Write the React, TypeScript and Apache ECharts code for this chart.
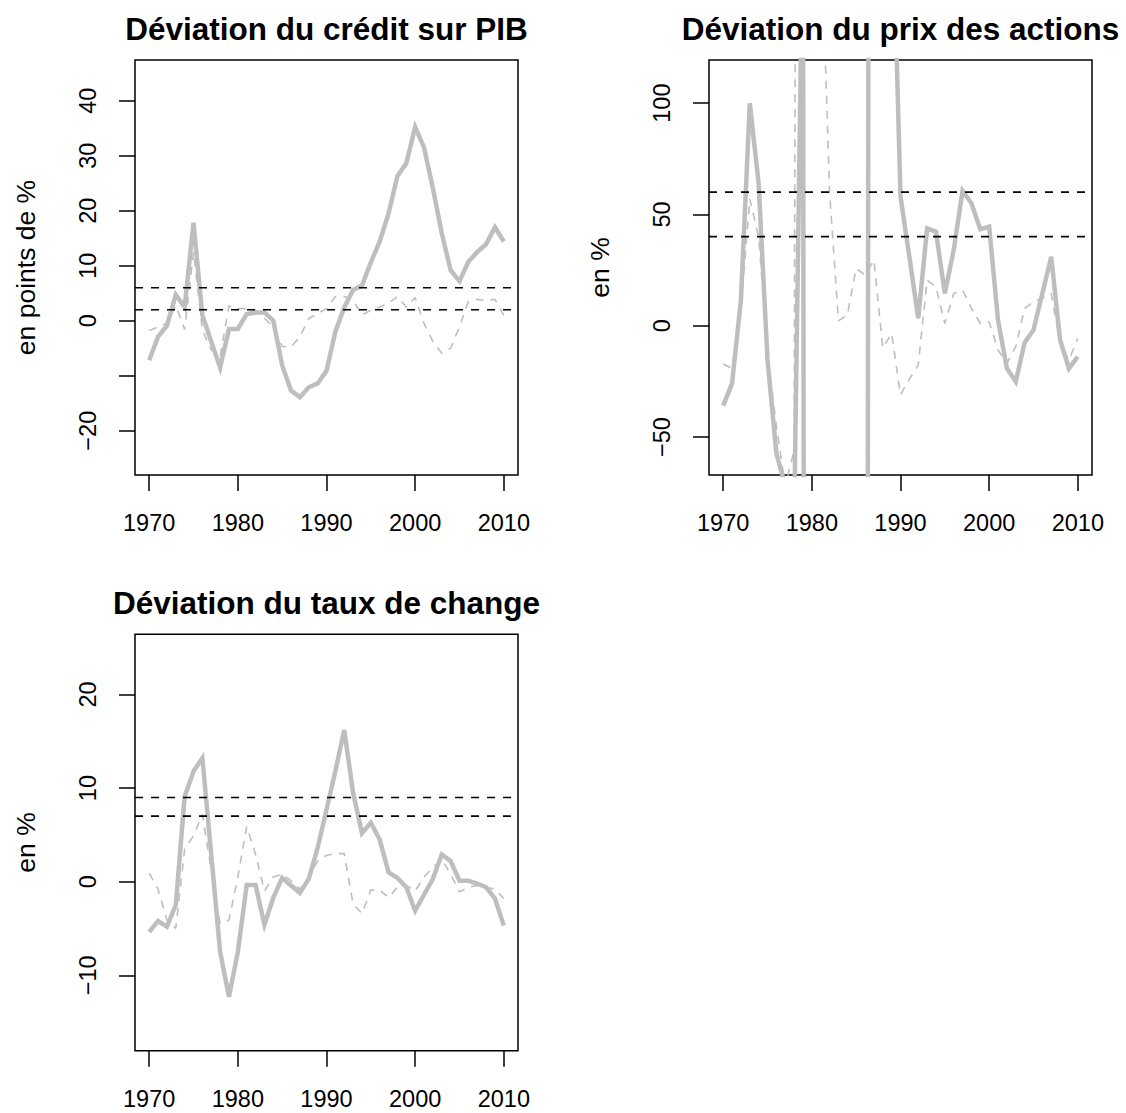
import React, { useEffect, useRef } from "react";
import * as echarts from "echarts";

// ---- data ----
const years = [
  1970, 1971, 1972, 1973, 1974, 1975, 1976, 1977, 1978, 1979,
  1980, 1981, 1982, 1983, 1984, 1985, 1986, 1987, 1988, 1989,
  1990, 1991, 1992, 1993, 1994, 1995, 1996, 1997, 1998, 1999,
  2000, 2001, 2002, 2003, 2004, 2005, 2006, 2007, 2008, 2009, 2010,
];
const xTicks = [1970, 1980, 1990, 2000, 2010];

const titles = [
  "Déviation du crédit sur PIB",
  "Déviation du prix des actions",
  "Déviation du taux de change",
];
const yNames = ["en points de %", "en %", "en %"];

const creditSolid = [
  -7.2, -2.9, -0.9, 4.7, 2.5, 17.8, 1.0, -3.8, -8.5, -1.5,
  -1.5, 1.2, 1.5, 1.5, 0, -8.1, -12.7, -13.9, -12.1, -11.4,
  -9.1, -2.0, 2.4, 5.6, 6.4, 10.6, 14.4, 19.5, 26.3, 28.6,
  35.2, 31.5, 24.1, 15.9, 9.2, 7.2, 10.7, 12.5, 13.9, 17.0, 14.4,
];
const creditDashed = [
  -1.8, -1.1, -0.5, 2.8, -1.6, 12.5, -1.7, -5.3, -6.5, 2.7,
  2.2, 2.2, 1.9, 0.4, -1.1, -4.7, -4.8, -2.9, 0.4, 1.3,
  2.2, 4.4, 4.4, 3.8, 1.0, 1.9, 2.5, 3.2, 4.4, 2.5,
  4.2, -0.5, -3.8, -5.9, -5.0, -1.1, 3.5, 3.9, 3.6, 3.9, 1.0,
];
const creditThresholds = [6, 2];
const creditTicks = [-20, -10, 0, 10, 20, 30, 40];
const creditLabels = [-20, 0, 10, 20, 30, 40];

const stockSolid = [
  -35.9, -25.9, 11.5, 99.9, 63.9, -15.4, -57.3, -72, -89, 187,
  -3000, -2500, -2000, -1500, -1200, -1000, -1000, 2000, 1000, 204,
  58, 31, 3.3, 43.7, 42.2, 14.5, 34, 60.6, 55, 43.3,
  44.5, 2.5, -19.2, -25.1, -7.6, -1.9, 14.5, 31, -6.4, -19.2, -13.9,
];
const stockDashed = [
  -17.2, -19.2, 7, 57, 40, -12.4, -45, -72, -56, 1500,
  800, 185, 60, 2.2, 4.8, 25.7, 22.8, 29.5, -10, -3.4,
  -31.1, -24, -17.7, 20.5, 17.5, 1.0, 14.5, 16, 7.8, 1.0,
  1.8, -10.9, -16.9, -9.4, 7.8, 10.8, 12.3, 14.5, -7.9, -15.4, -5.7,
];
const stockThresholds = [60, 40];
const stockTicks = [-50, 0, 50, 100];

const exchSolid = [
  -5.4, -4.2, -4.8, -2.5, 9.1, 11.8, 13.2, 2.9, -7.5, -12.3,
  -7.5, -0.35, -0.35, -4.6, -1.7, 0.4, -0.4, -1.2, 0.3, 3.6,
  7.7, 11.8, 16.2, 9.5, 5.2, 6.3, 4.5, 1.0, 0.4, -0.6,
  -3.1, -1.4, 0.3, 2.9, 2.2, 0.1, 0.1, -0.2, -0.6, -1.8, -4.7,
];
const exchDashed = [
  0.9, -0.8, -4.1, -5.0, 3.5, 4.9, 7.2, 1.2, -4.5, -4.1,
  0.5, 5.9, 2.9, -1.0, 0.5, 0.8, 0.1, -0.8, 0.5, 2.2,
  2.8, 3.0, 3.0, -2.4, -3.4, -0.9, -0.9, -1.7, -0.6, -0.4,
  -1.0, 0.5, 1.5, 2.4, 0.8, -1.1, -0.6, -0.4, -0.6, -0.8, -1.8,
];
const exchThresholds = [9, 7];
const exchTicks = [-10, 0, 10, 20];

// axis ranges (R style: 4% padding)
const X_MIN = 1968.4;
const X_MAX = 2011.6;
const yRanges = [
  [-28.05, 47.4],
  [-67.07, 119.36],
  [-18.06, 26.43],
];

const FONT = "'Liberation Sans', Arial, Helvetica, sans-serif";
const GREY = "#BEBEBE";

const grids = [
  { left: 135, top: 60, width: 383, height: 415 },
  { left: 709, top: 60, width: 383, height: 415 },
  { left: 135, top: 634.3, width: 383, height: 416.4 },
];

export default function App() {
  const ref = useRef<HTMLDivElement>(null);

  useEffect(() => {
    if (!ref.current) return;
    const chart = echarts.init(ref.current, null, { renderer: "svg" });

    const solids = [creditSolid, stockSolid, exchSolid];
    const dashes = [creditDashed, stockDashed, exchDashed];
    const thresholds = [creditThresholds, stockThresholds, exchThresholds];
    const ticks = [creditTicks, stockTicks, exchTicks];
    const labels = [creditLabels, stockTicks, exchTicks];

    const xAxis = grids.map((_, i) => ({
      type: "value",
      gridIndex: i,
      position: "bottom",
      min: X_MIN,
      max: X_MAX,
      axisLine: { show: false, onZero: false },
      splitLine: { show: false },
      axisTick: {
        show: true,
        inside: false,
        length: 16,
        customValues: xTicks,
        lineStyle: { color: "#000", width: 1.5 },
      },
      axisLabel: {
        show: true,
        customValues: xTicks,
        margin: 36,
        color: "#000",
        fontFamily: FONT,
        fontSize: 23.5,
        formatter: (v: number) => String(v),
      },
    }));

    const yAxis = grids.map((_, i) => ({
      type: "value",
      gridIndex: i,
      position: "left",
      min: yRanges[i][0],
      max: yRanges[i][1],
      name: yNames[i],
      nameLocation: "middle",
      nameRotate: 90,
      nameGap: 96,
      nameTextStyle: { color: "#000", fontFamily: FONT, fontSize: 26.5 },
      axisLine: { show: false, onZero: false },
      splitLine: { show: false },
      axisTick: {
        show: true,
        inside: false,
        length: 16,
        customValues: ticks[i],
        lineStyle: { color: "#000", width: 1.5 },
      },
      axisLabel: {
        show: true,
        customValues: labels[i],
        rotate: 90,
        margin: 35,
        color: "#000",
        fontFamily: FONT,
        fontSize: 23.5,
        formatter: (v: number) => (v < 0 ? "\u2212" + Math.abs(v) : String(v)),
      },
    }));

    const series: any[] = [];
    grids.forEach((_, i) => {
      series.push({
        type: "line",
        xAxisIndex: i,
        yAxisIndex: i,
        data: years.map((y, k) => [y, solids[i][k]]),
        showSymbol: false,
        symbol: "none",
        clip: true,
        lineStyle: { color: GREY, width: 4.5, cap: "butt", join: "miter" },
        z: 2,
      });
      series.push({
        type: "line",
        xAxisIndex: i,
        yAxisIndex: i,
        data: years.map((y, k) => [y, dashes[i][k]]),
        showSymbol: false,
        symbol: "none",
        clip: true,
        lineStyle: { color: GREY, width: 1.6, type: [8, 7] },
        z: 3,
      });
      thresholds[i].forEach((t) => {
        series.push({
          type: "line",
          xAxisIndex: i,
          yAxisIndex: i,
          data: [
            [X_MIN, t],
            [X_MAX, t],
          ],
          showSymbol: false,
          symbol: "none",
          clip: true,
          lineStyle: { color: "#000", width: 1.6, type: [8, 8] },
          z: 4,
        });
      });
    });

    const titlePos = [
      [326.5, 29],
      [900.5, 29],
      [326.5, 603],
    ];

    chart.setOption({
      animation: false,
      backgroundColor: "#fff",
      grid: grids.map((g) => ({
        ...g,
        show: true,
        borderColor: "#000",
        borderWidth: 1.5,
        backgroundColor: "transparent",
        containLabel: false,
      })),
      xAxis,
      yAxis,
      series,
      graphic: titles.map((t, i) => ({
        type: "text",
        x: titlePos[i][0],
        y: titlePos[i][1],
        z: 10,
        style: {
          text: t,
          fontFamily: FONT,
          fontSize: 31.5,
          fontWeight: "bold",
          fill: "#000",
          textAlign: "center",
          textVerticalAlign: "middle",
        },
      })),
    });

    return () => chart.dispose();
  }, []);

  return (
    <div
      ref={ref}
      style={{ position: "absolute", left: 0, top: 0, width: 1126, height: 1113 }}
    />
  );
}
